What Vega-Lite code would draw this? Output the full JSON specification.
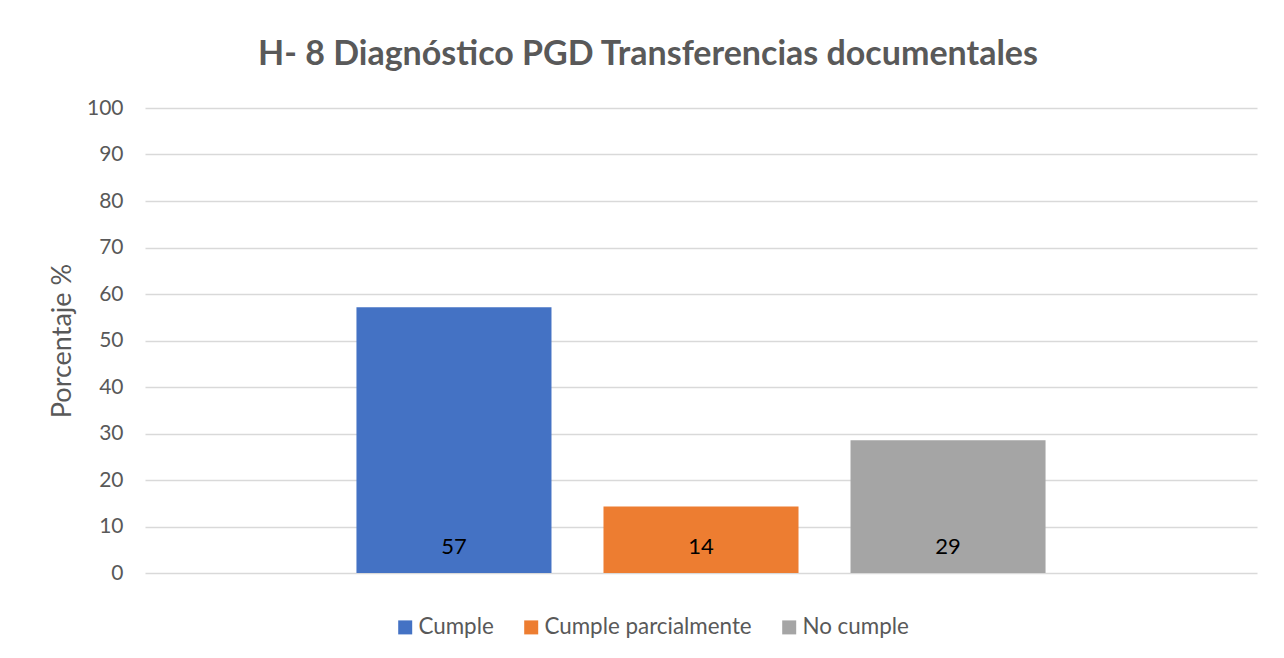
{
  "$schema": "https://vega.github.io/schema/vega-lite/v6.json",
  "autosize": "none",
  "width": 1112,
  "height": 465,
  "padding": {"left": 145, "top": 108, "right": 27, "bottom": 85},
  "background": "white",
  "config": {
    "font": "Lato",
    "view": {"stroke": null},
    "axis": {"labelColor": "#595959", "titleColor": "#595959"}
  },
  "title": {
    "text": "H- 8 Diagnóstico PGD Transferencias documentales",
    "fontSize": 34,
    "fontWeight": "bold",
    "color": "#595959",
    "anchor": "middle",
    "frame": "group",
    "dx": -53,
    "offset": 25
  },
  "data": {
    "values": [
      {"serie": "Cumple", "valor": 57.14},
      {"serie": "Cumple parcialmente", "valor": 14.29},
      {"serie": "No cumple", "valor": 28.57}
    ]
  },
  "encoding": {
    "x": {
      "field": "serie",
      "type": "nominal",
      "sort": ["Cumple", "Cumple parcialmente", "No cumple"],
      "scale": {"paddingInner": 0.2105, "paddingOuter": 0.856},
      "axis": null
    }
  },
  "layer": [
    {
      "mark": {"type": "bar"},
      "encoding": {
        "y": {
          "field": "valor",
          "type": "quantitative",
          "scale": {"domain": [0, 100]},
          "axis": {
            "values": [0, 10, 20, 30, 40, 50, 60, 70, 80, 90, 100],
            "title": "Porcentaje %",
            "titleFontSize": 27,
            "titleFontWeight": "normal",
            "titlePadding": 10,
            "labelFontSize": 21,
            "labelPadding": 22,
            "ticks": false,
            "domain": false,
            "gridColor": "#D9D9D9",
            "gridWidth": 1.5
          }
        },
        "color": {
          "field": "serie",
          "type": "nominal",
          "sort": ["Cumple", "Cumple parcialmente", "No cumple"],
          "scale": {"range": ["#4472C4", "#ED7D31", "#A5A5A5"]},
          "legend": {
            "title": null,
            "orient": "none",
            "direction": "horizontal",
            "legendX": 249,
            "legendY": 508,
            "symbolType": "square",
            "symbolSize": 196,
            "symbolStrokeWidth": 0,
            "labelFontSize": 22.4,
            "labelLimit": 400,
            "labelColor": "#595959",
            "columnPadding": 26,
            "labelOffset": 2
          }
        }
      }
    },
    {
      "mark": {"type": "text", "fontSize": 22, "color": "#000000", "baseline": "middle", "dy": -26},
      "encoding": {
        "y": {"datum": 0, "type": "quantitative"},
        "text": {"field": "valor", "type": "quantitative", "format": ".0f"}
      }
    }
  ]
}
